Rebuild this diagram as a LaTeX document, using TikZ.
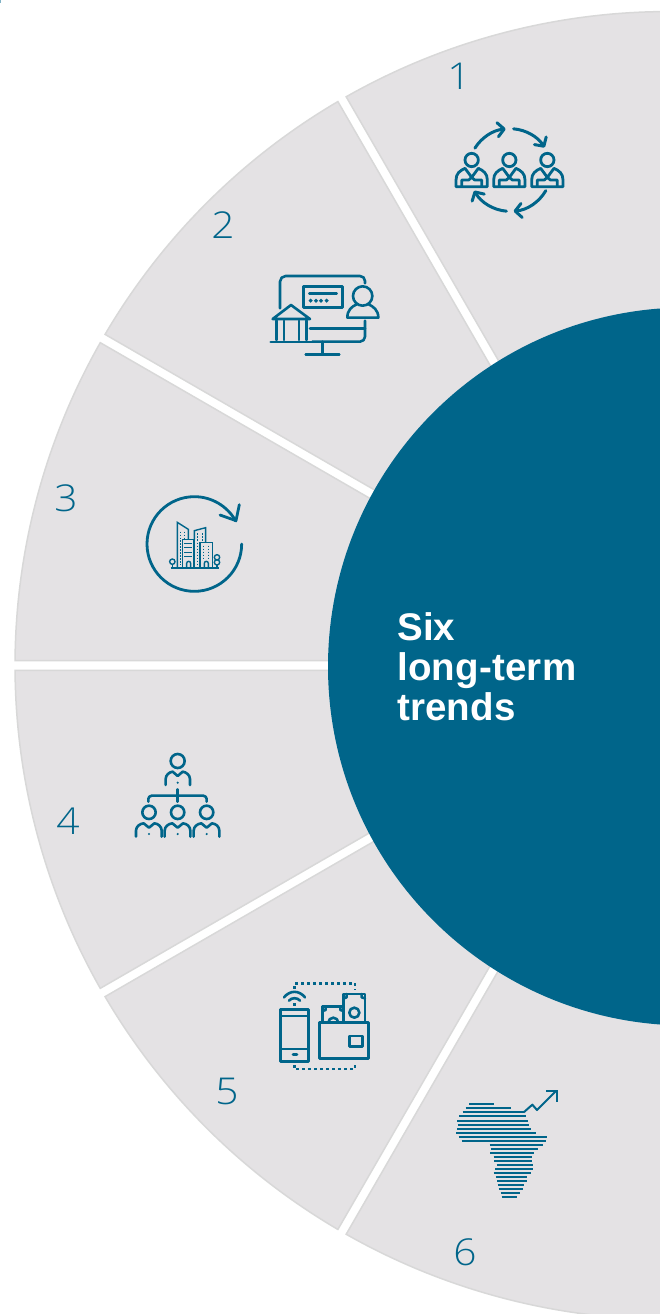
\documentclass[tikz,border=0pt]{standalone}
\usepackage{fontspec}
\setmainfont{Liberation Sans}
\newfontfamily\numfont[FakeStretch=1.1]{Open Sans Light}
\newfontfamily\titlefont[LetterSpace=0.5]{Liberation Sans}
\usetikzlibrary{arrows.meta}
\definecolor{teal}{HTML}{00658A}
\definecolor{sectorfill}{HTML}{E4E2E4}
\definecolor{sectoredge}{HTML}{D8D8D8}
\tikzset{
  zoomed/.style={x=0.33333pt,y=-0.33333pt},
  sectorbox/.style={fill=sectorfill,draw=sectoredge,line width=1.5pt,line join=miter},
  ic/.style={draw=teal,line width=2.6pt,line cap=round,line join=round},
  num/.style={font=\numfont\fontsize{37}{37}\selectfont,text=teal,inner sep=0pt,anchor=center},
  barb/.style={-{Straight Barb[length=6.5pt,width=14pt,round]}},
  dotline/.style={draw=teal,line width=2.8pt,dash pattern=on 2.8pt off 3.2pt},
}
\begin{document}
\begin{tikzpicture}[x=1pt,y=-1pt]
\useasboundingbox (0,0) rectangle (660,1314);
\clip (0,0) rectangle (660,1314);
\fill[white] (0,0) rectangle (660,1314);
\fill[teal!50] (0,0) rectangle (1,3.5);
% sectors
\begin{scope}[shift={(669,665.5)}]
\foreach \a/\b in {70/120,120/150,150/180,180/210,210/240,240/290}{
  \path[sectorbox] ({-\a-0.42}:654) arc[start angle={-\a-0.42},end angle={-\b+0.42},radius=654]
     -- ({-\b+0.92}:300) -- ({-\a-0.92}:300) -- cycle;
}
\end{scope}
\fill[teal] (687,666.5) circle[radius=359];
\node[font={\titlefont\bfseries\fontsize{38.5}{40}\selectfont},text=white,align=left,inner sep=0pt,anchor=north west] (title) at (397,612) {Six\\long-term\\trends};
\node[num] (n1) at (459,76) {1};
\node[num] (n2) at (223,225) {2};
\node[num] (n3) at (66,498) {3};
\node[num] (n4) at (68,821) {4};
\node[num] (n5) at (227,1091) {5};
\node[num] (n6) at (465,1252) {6};
% icon 1
\begin{scope}[shift={(430,100)},zoomed]
 \foreach \p in {125,238,352}{
  \begin{scope}[shift={(\p,0)}]
   \draw[ic,line width=2.8pt] (0,180) circle[radius=20];
   \draw[ic,line width=2.8pt] (-47,260) -- (-47,240) .. controls (-47,220) and (-35,212) .. (-20,205) -- (0,232) -- (20,205) .. controls (35,212) and (47,220) .. (47,240) -- (47,260) -- cycle;
   \draw[ic,line width=2.8pt] (-30,258) -- (-30,240) -- (-9,240) -- (0,232) -- (9,240) -- (30,240) -- (30,258);
  \end{scope}
 }
 \begin{scope}[shift={(240,210)}]
  \draw[ic,barb,line width=3pt] (-148:124) arc[start angle=-148,end angle=-96,radius=124];
  \draw[ic,barb,line width=3pt] (-85:124) arc[start angle=-85,end angle=-33,radius=124];
  \draw[ic,barb,line width=3pt] (30:124) arc[start angle=30,end angle=85,radius=124];
  \draw[ic,barb,line width=3pt] (95:124) arc[start angle=95,end angle=150,radius=124];
 \end{scope}
\end{scope}
% icon 2
\begin{scope}[shift={(250,260)},zoomed]
 \draw[ic] (90,145) -- (90,65) arc[start angle=180,end angle=270,radius=17] -- (330,48) arc[start angle=270,end angle=360,radius=15] -- (345,70);
 \draw[ic] (345,182) -- (345,230) arc[start angle=0,end angle=90,radius=15] -- (187,245);
 \draw[ic] (180,205) -- (345,205);
 \draw[ic] (217,245) -- (217,283);
 \draw[ic] (167,283) -- (268,283);
 \draw[ic] (160,80) rectangle (277,143);
 \draw[ic] (178,100) -- (260,100);
 \foreach \q in {182,198,213,230}{ \draw[draw=teal,line width=1.4pt] (\q,122) circle[radius=3.5]; }
 \draw[ic] (338,108) circle[radius=29];
 \draw[ic] (292,173) -- (385,173) .. controls (385,150) and (370,140) .. (356,133);
 \draw[ic] (292,173) .. controls (292,150) and (305,140) .. (320,133);
 \draw[ic] (68,177) -- (123,135) -- (180,177) -- cycle;
 \foreach \q in {80,102,147,170}{ \draw[ic] (\q,182) -- (\q,240); }
 \draw[ic] (62,246) -- (185,246);
\end{scope}
% icon 3
\begin{scope}[shift={(130,480)},zoomed]
 \draw[ic,line width=2.8pt] (335,192) arc[start angle=0,end angle=331,radius=142];
 \draw[ic,line width=2.8pt] (270,105) -- (318,122) -- (328,74);
 \begin{scope}[line width=1.4pt,line join=miter]
  \draw[teal] (142,262) -- (142,127) -- (175,148) -- (175,178);
  \draw[teal] (157,262) -- (157,178) -- (192,178) -- (192,262);
  \draw[teal] (193,178) -- (193,152) -- (227,143) -- (227,188);
  \draw[teal] (210,262) -- (210,188) -- (247,188) -- (247,262);
  \draw[teal,line width=1.7pt] (122,263) -- (268,263);
  \draw[teal] (170,262) -- (170,250) arc[start angle=180,end angle=360,radius=6] -- (182,262);
  \draw[teal] (223,262) -- (223,250) arc[start angle=180,end angle=360,radius=6] -- (235,262);
  \draw[teal] (127,245) circle[radius=8]; \draw[teal] (127,253) -- (127,263);
  \draw[teal] (261,232) circle[radius=8]; \draw[teal] (261,247) circle[radius=8]; \draw[teal] (261,255) -- (261,263);
  \foreach \q in {150,162}{ \draw[teal,line width=1pt,dash pattern=on 1.5pt off 1.5pt] (\q,155) -- (\q,175); }
  \draw[teal,line width=1pt,dash pattern=on 1.5pt off 1.5pt] (150,180) -- (150,255);
  \foreach \q in {190,203,216,229}{ \draw[teal,line width=1pt] (163,\q) -- (187,\q); }
  \foreach \q in {202,216}{ \draw[teal,line width=1pt,dash pattern=on 1.5pt off 1.5pt] (\q,160) -- (\q,185); }
  \draw[teal,line width=1pt,dash pattern=on 1.5pt off 1.5pt] (201,188) -- (201,255);
  \foreach \q in {220,236}{ \draw[teal,line width=1pt,dash pattern=on 1.5pt off 1.5pt] (\q,197) -- (\q,240); }
 \end{scope}
\end{scope}
% icon 4
\begin{scope}[shift={(120,740)},zoomed]
 \draw[ic] (173,63) circle[radius=21];
 \draw[ic] (137,135) -- (137,117) .. controls (137,105) and (148,96) .. (158,95) -- (173,108) -- (188,95) .. controls (198,96) and (210,105) .. (210,117) -- (210,135);
 \fill[teal] (173,128) circle[radius=3.5];
 \draw[ic] (173,148) -- (173,185);
 \draw[ic] (85,185) -- (85,177) arc[start angle=180,end angle=270,radius=10] -- (250,167) arc[start angle=270,end angle=360,radius=10] -- (260,185);
 \foreach \p in {87,173,260}{
  \draw[ic] (\p,217) circle[radius=20];
  \begin{scope}[shift={(\p,0)}]
   \draw[ic] (-39,290) -- (-39,272) .. controls (-39,260) and (-28,251) .. (-16,250) -- (0,263) -- (16,250) .. controls (28,251) and (38,260) .. (38,272) -- (38,290);
   \fill[teal] (0,282) circle[radius=3.5];
  \end{scope}
 }
\end{scope}
% icon 5
\begin{scope}[shift={(265,970)},zoomed]
 \draw[dotline] (88,56) -- (88,40) -- (270,40) -- (270,60);
 \draw[dotline] (88,285) -- (88,297) -- (270,297) -- (270,276);
 \draw[ic] (57,82) .. controls (75,60) and (102,60) .. (120,82);
 \draw[ic] (72,92) .. controls (80,82) and (97,82) .. (105,92);
 \fill[teal] (84,98) rectangle (93,107);
 \draw[ic] (47,118) rectangle (130,275);
 \draw[ic] (47,138) -- (130,138);
 \draw[ic] (47,237) -- (130,237);
 \draw[ic] (84,253) -- (96,253);
 \draw[ic] (164,158) rectangle (310,265);
 \draw[ic] (253,198) rectangle (293,230);
 \draw[ic] (236,158) -- (236,72) -- (300,72) -- (300,158);
 \draw[ic] (268,128) circle[radius=15];
 \draw[ic] (172,158) -- (172,110) -- (236,110);
 \draw[ic] (190,158) arc[start angle=180,end angle=360,radius=15];
 \draw[ic] (245,72) -- (245,82) -- (236,85);
 \draw[ic] (290,72) -- (290,82) -- (300,85);
 \draw[ic] (182,110) -- (182,120) -- (172,123);
 \draw[ic] (226,110) -- (226,120) -- (236,123);
\end{scope}
% icon 6
\begin{scope}[shift={(445,1080)},zoomed]
 \foreach \xa/\xb/\yy in {73/148/72,62/198/85,53/236/97,43/242/109,36/248/122,38/253/134,36/259/146,33/272/158,41/306/170,50/304/183,134/294/195,137/280/207,136/266/219,146/260/231,148/262/243,155/265/255,150/265/268,146/258/280,152/246/292,156/246/304,158/238/316,161/234/328,167/226/340,170/217/352}{
  \draw[teal,line width=2pt] (\xa,\yy) -- (\xb,\yy);
 }
 \draw[draw=teal,line width=2pt,line join=round] (236,97) -- (262,74) -- (276,90) -- (333,33);
 \draw[draw=teal,line width=2pt] (303,33) -- (335,33) -- (335,65);
\end{scope}
\end{tikzpicture}
\end{document}
